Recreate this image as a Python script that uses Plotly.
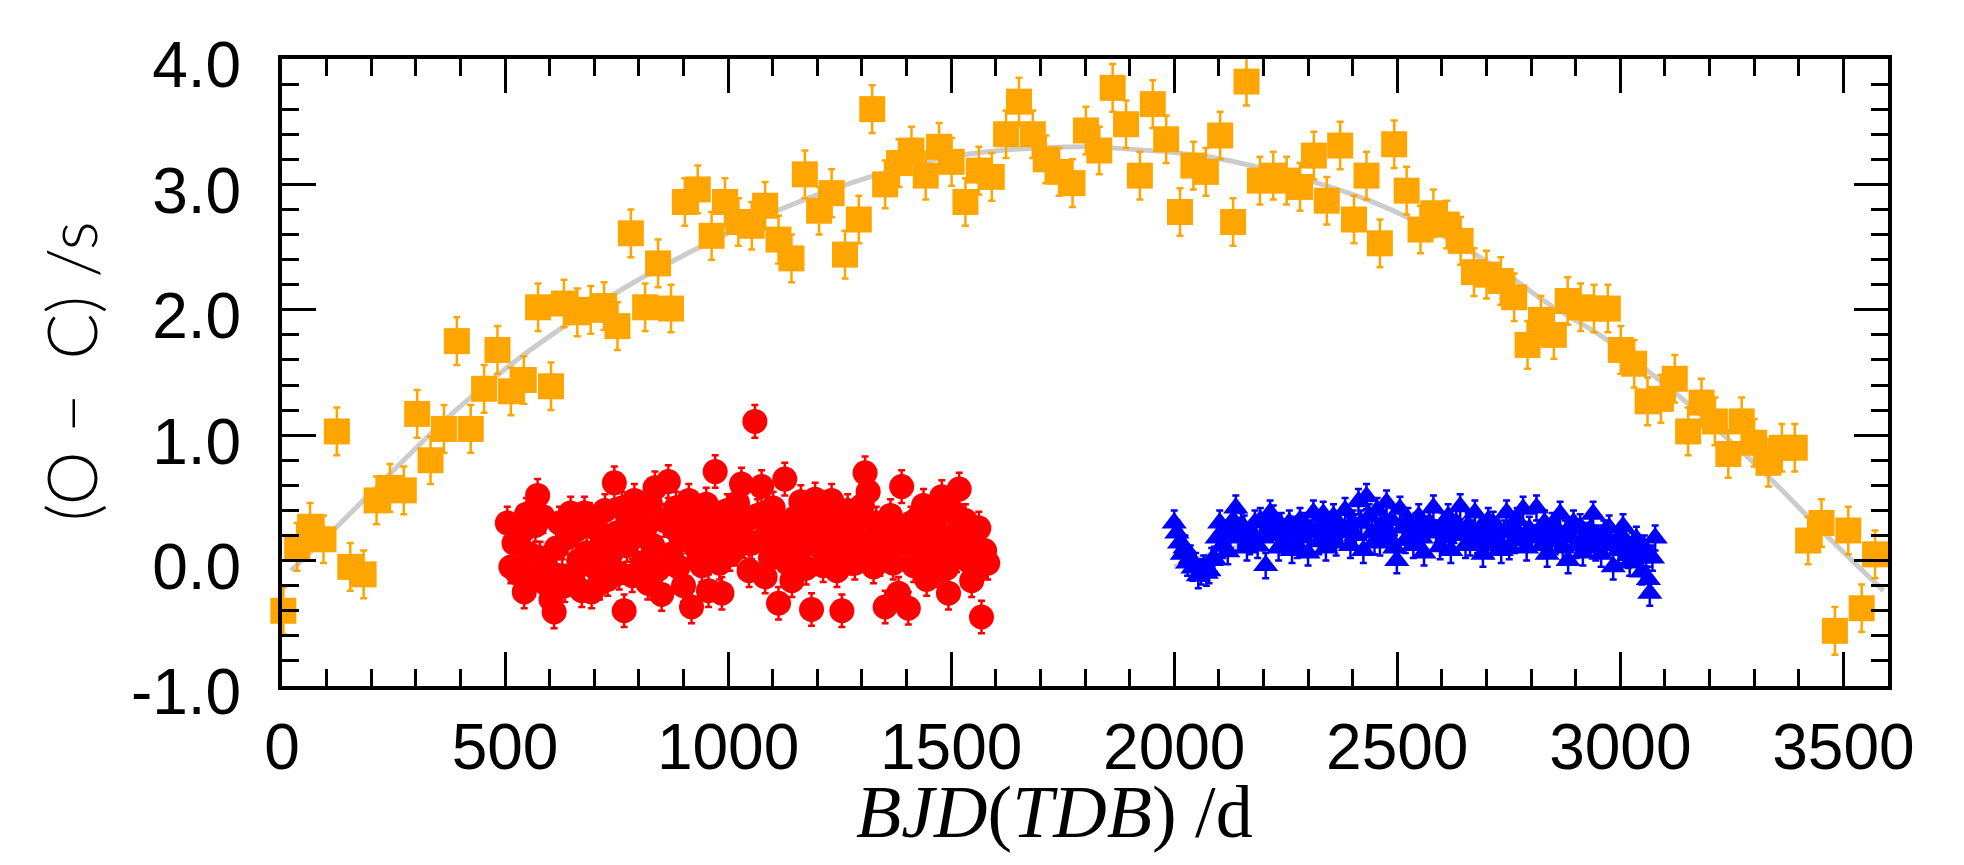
import plotly.graph_objects as go

# ---- O-C timing residuals -------------------------------------------------
# Long-baseline series (orange squares)
orange_x = [3, 34, 63, 93, 123, 153, 183, 212, 242, 273, 303, 333, 363, 392, 423,
            453, 483, 513, 542, 574, 603, 632, 662, 692, 722, 752, 782, 814, 843,
            872, 903, 932, 963, 993, 1023, 1053, 1083, 1113, 1142, 1172, 1204,
            1232, 1262, 1293, 1323, 1352, 1383, 1411, 1443, 1473, 1501, 1532,
            1562, 1591, 1623, 1652, 1683, 1712, 1742, 1772, 1802, 1832, 1862,
            1892, 1923, 1952, 1982, 2013, 2043, 2071, 2103, 2132, 2162, 2192,
            2222, 2252, 2282, 2313, 2342, 2372, 2403, 2431, 2461, 2493, 2521,
            2552, 2581, 2611, 2642, 2672, 2700, 2732, 2762, 2792, 2822, 2851,
            2882, 2911, 2941, 2972, 3001, 3031, 3061, 3091, 3122, 3152, 3182,
            3212, 3242, 3272, 3300, 3332, 3362, 3391, 3421, 3451, 3481, 3511,
            3541, 3571]
orange_y = [-0.40, 0.11, 0.27, 0.17, 1.03, -0.05, -0.11, 0.48, 0.58, 0.56, 1.17,
            0.80, 1.05, 1.75, 1.05, 1.37, 1.68, 1.35, 1.44, 2.02, 1.39, 2.05,
            1.98, 2.00, 2.03, 1.87, 2.61, 2.02, 2.37, 2.01, 2.86, 2.96, 2.59,
            2.86, 2.70, 2.67, 2.83, 2.56, 2.41, 3.08, 2.79, 2.93, 2.44, 2.72,
            3.60, 3.00, 3.17, 3.27, 3.07, 3.30, 3.18, 2.86, 3.11, 3.06, 3.40,
            3.66, 3.40, 3.20, 3.10, 3.01, 3.43, 3.27, 3.77, 3.48, 3.07, 3.64,
            3.36, 2.78, 3.15, 3.10, 3.39, 2.70, 3.82, 3.03, 3.07, 3.03, 2.98,
            3.23, 2.87, 3.31, 2.72, 3.07, 2.53, 3.32, 2.95, 2.64, 2.77, 2.68,
            2.55, 2.30, 2.28, 2.23, 2.10, 1.72, 1.92, 1.80, 2.07, 2.02, 2.01,
            2.01, 1.68, 1.57, 1.27, 1.29, 1.45, 1.03, 1.26, 1.11, 0.85, 1.11,
            0.94, 0.78, 0.90, 0.90, 0.16, 0.30, -0.56, 0.24, -0.38, 0.05]
orange_err = 0.19

# First short campaign (red circles)
red_x = [505, 513, 520, 528, 535, 543, 548, 555, 562, 568,
         573, 578, 585, 590, 597, 603, 610, 615, 622, 628,
         634, 640, 647, 652, 658, 665, 672, 678, 683, 689,
         694, 700, 706, 712, 718, 724, 730, 737, 745, 750,
         756, 762, 767, 773, 779, 785, 790, 796, 802, 808,
         814, 820, 826, 831, 836, 843, 851, 857, 866, 872,
         878, 883, 888, 894, 900, 906, 912, 918, 924, 930,
         935, 941, 947, 951, 956, 962, 971, 977, 981, 986,
         992, 998, 1004, 1010, 1015, 1021, 1030, 1035, 1041, 1047,
         1053, 1060, 1066, 1075, 1083, 1089, 1095, 1101, 1107, 1113,
         1120, 1127, 1133, 1138, 1143, 1150, 1157, 1163, 1169, 1175,
         1181, 1187, 1195, 1201, 1207, 1213, 1220, 1226, 1232, 1238,
         1244, 1250, 1255, 1262, 1268, 1274, 1279, 1284, 1290, 1296,
         1301, 1307, 1314, 1320, 1326, 1332, 1340, 1346, 1352, 1358,
         1364, 1370, 1376, 1382, 1389, 1395, 1404, 1410, 1416, 1420,
         1426, 1432, 1438, 1445, 1450, 1456, 1462, 1468, 1473, 1479,
         1485, 1490, 1494, 1500, 1506, 1512, 1518, 1524, 1532, 1538,
         1546, 1552, 1558, 1562, 1568, 1575, 1582]
red_y = [0.30, -0.05, 0.14, -0.10, 0.22, -0.25, 0.37, 0.05, -0.15, 0.28,
         0.52, 0.02, 0.35, -0.18, -0.08, -0.31, -0.41, 0.10, 0.30, -0.12,
         -0.20, 0.18, 0.38, -0.14, 0.24, 0.00, -0.24, 0.38, 0.06, 0.33,
         -0.25, -0.05, 0.25, -0.18, 0.15, 0.40, -0.15, 0.05, 0.62, 0.22,
         -0.10, 0.42, -0.40, 0.12, 0.30, -0.12, 0.48, 0.20, 0.36, -0.02,
         0.26, -0.18, 0.45, 0.12, 0.58, -0.07, -0.27, 0.32, 0.63, 0.05,
         0.26, 0.42, -0.05, 0.18, -0.20, 0.30, 0.48, -0.37, 0.12, 0.36,
         0.02, -0.04, 0.24, 0.45, -0.24, 0.10, 0.71, 0.34, -0.02, -0.26,
         0.20, 0.40, 0.05, 0.28, 0.09, 0.46, 0.61, 0.15, 0.32, -0.08,
         0.14, 1.11, 0.36, 0.59, -0.13, 0.24, 0.02, 0.42, 0.12, -0.34,
         0.26, 0.65, -0.02, 0.20, -0.16, 0.34, 0.06, 0.47, 0.22, -0.06,
         0.32, -0.39, 0.49, 0.12, 0.28, -0.04, 0.36, 0.05, 0.48, 0.18,
         -0.08, 0.30, -0.40, 0.12, 0.40, 0.02, 0.24, -0.02, 0.34, 0.10,
         0.44, 0.70, 0.55, 0.16, -0.05, 0.30, 0.01, 0.22, -0.37, 0.10,
         0.36, -0.02, 0.24, -0.26, 0.59, 0.14, -0.38, 0.30, -0.04, 0.18,
         0.34, 0.06, 0.44, -0.15, 0.22, -0.02, 0.34, 0.10, -0.08, 0.51,
         0.20, -0.06, -0.26, 0.14, 0.38, 0.04, 0.57, 0.22, 0.32, 0.00,
         -0.16, 0.12, -0.08, 0.26, -0.45, 0.08, -0.02]
red_err = 0.13

# Second short campaign (blue triangles)
blue_x = [2000, 2006, 2012, 2018, 2024, 2030, 2036, 2042, 2048, 2054, 2060, 2066,
          2072, 2078, 2084, 2090, 2096, 2102, 2108, 2114, 2120, 2126, 2132, 2138,
          2144, 2150, 2157, 2163, 2169, 2175, 2181, 2187, 2193, 2199, 2205, 2211,
          2215, 2222, 2228, 2234, 2240, 2246, 2252, 2258, 2264, 2270, 2276, 2282,
          2288, 2294, 2300, 2306, 2312, 2318, 2324, 2330, 2334, 2340, 2346, 2352,
          2357, 2363, 2369, 2375, 2383, 2389, 2395, 2401, 2407, 2413, 2419, 2424,
          2431, 2437, 2443, 2449, 2455, 2461, 2467, 2473, 2476, 2482, 2488, 2494,
          2499, 2506, 2512, 2518, 2524, 2530, 2536, 2542, 2548, 2554, 2560, 2566,
          2572, 2581, 2587, 2596, 2602, 2608, 2614, 2620, 2626, 2632, 2641, 2647,
          2653, 2659, 2663, 2669, 2674, 2680, 2686, 2692, 2698, 2704, 2710, 2715,
          2721, 2727, 2733, 2739, 2745, 2751, 2757, 2763, 2769, 2775, 2782, 2790,
          2796, 2802, 2812, 2818, 2824, 2830, 2836, 2842, 2848, 2854, 2860, 2865,
          2871, 2877, 2883, 2889, 2895, 2901, 2910, 2916, 2922, 2928, 2933, 2939,
          2945, 2951, 2957, 2963, 2969, 2975, 2984, 2990, 2996, 3002, 3006, 3012,
          3018, 3021, 3027, 3032, 3036, 3042, 3048, 3054, 3058, 3063, 3066, 3072,
          3078]
blue_y = [0.30, 0.22, 0.14, 0.05, 0.10, -0.02, 0.02, -0.06, -0.04, -0.12, -0.09,
          -0.06, -0.10, -0.08, 0.00, 0.01, 0.18, 0.30, 0.12, 0.22, 0.07, 0.20,
          0.32, 0.42, 0.18, 0.28, 0.26, 0.10, 0.15, 0.22, 0.30, 0.12, 0.32, 0.18,
          -0.04, 0.25, 0.38, 0.34, 0.20, 0.10, 0.28, 0.15, 0.22, 0.30, 0.08, 0.25,
          0.12, 0.32, 0.18, 0.28, 0.06, 0.22, 0.38, 0.25, 0.15, 0.30, 0.37, 0.10,
          0.27, 0.20, 0.35, 0.14, 0.28, 0.22, 0.40, 0.25, 0.12, 0.30, 0.20, 0.47,
          0.30, 0.08, 0.51, 0.35, 0.22, 0.15, 0.40, 0.14, 0.30, 0.25, 0.46, 0.18,
          0.32, 0.10, 0.00, 0.41, 0.26, 0.16, 0.32, 0.20, 0.12, 0.28, 0.35, 0.18,
          0.06, 0.25, 0.30, 0.42, 0.22, 0.11, 0.28, 0.18, 0.35, 0.08, 0.24, 0.30,
          0.43, 0.20, 0.12, 0.28, 0.14, 0.22, 0.38, 0.16, 0.26, 0.05, 0.20, 0.32,
          0.12, 0.29, 0.18, 0.25, 0.08, 0.22, 0.38, 0.11, 0.28, 0.16, 0.32, 0.20,
          0.41, 0.10, 0.25, 0.18, 0.42, 0.22, 0.12, 0.30, 0.05, 0.20, 0.28, 0.15,
          0.24, 0.37, 0.10, 0.22, 0.00, 0.18, 0.30, 0.12, 0.27, 0.06, 0.20, 0.15,
          0.25, 0.37, 0.10, 0.18, 0.05, 0.22, 0.12, 0.26, -0.05, 0.15, 0.08, 0.20,
          0.27, 0.10, 0.04, -0.02, 0.12, 0.06, 0.17, 0.02, -0.09, 0.10, 0.05,
          -0.15, -0.26, 0.02, 0.18]
blue_err = 0.10

# Fitted model curves (light grey)
fit_x = [20, 120, 250, 390, 530, 650, 765, 937, 1116, 1266, 1452, 1609, 1796,
         1864, 2058, 2185, 2312, 2431, 2544, 2730, 2842, 2962, 3059, 3149, 3238,
         3343, 3462, 3590]
fit_y = [-0.08, 0.26, 0.72, 1.20, 1.61, 1.91, 2.17, 2.50, 2.80, 3.00, 3.19, 3.27,
         3.30, 3.29, 3.23, 3.14, 3.02, 2.88, 2.70, 2.32, 2.04, 1.78, 1.52, 1.26,
         0.98, 0.63, 0.20, -0.24]
red_fit_x = [500, 700, 900, 1150, 1400, 1585]
red_fit_y = [0.10, 0.18, 0.24, 0.28, 0.25, 0.20]
blue_fit_x = [2000, 2100, 2200, 2320, 2430, 2540, 2650, 2760, 2880, 2980, 3080]
blue_fit_y = [-0.05, 0.07, 0.16, 0.21, 0.24, 0.235, 0.21, 0.18, 0.12, 0.07, 0.01]

x_ticks = [0, 500, 1000, 1500, 2000, 2500, 3000, 3500]
x_labels = ["0", "500", "1000", "1500", "2000", "2500", "3000", "3500"]
y_ticks = [-1, 0, 1, 2, 3, 4]
y_labels = ["-1.0", "0.0", "1.0", "2.0", "3.0", "4.0"]

ORANGE = "#FFA500"
RED = "#FF0000"
BLUE = "#0000FF"
GREY = "#CCCCCC"

fig = go.Figure()

for fx, fy in ((fit_x, fit_y), (red_fit_x, red_fit_y), (blue_fit_x, blue_fit_y)):
    fig.add_trace(go.Scatter(x=fx, y=fy, mode="lines", line_shape="spline",
                             line=dict(color=GREY, width=5), hoverinfo="skip"))


def residuals(x, y, err, color, symbol, size):
    return go.Scatter(
        x=x, y=y, mode="markers", cliponaxis=False,
        marker=dict(symbol=symbol, size=size, color=color, line=dict(width=0)),
        error_y=dict(type="constant", value=err, color=color,
                     thickness=2.5, width=3.5),
    )


fig.add_trace(residuals(orange_x, orange_y, orange_err, ORANGE, "square", 26))
fig.add_trace(residuals(red_x, red_y, red_err, RED, "circle", 25))
fig.add_trace(residuals(blue_x, blue_y, blue_err, BLUE, "triangle-up", 22))

axis_common = dict(
    showline=True, linecolor="black", linewidth=4, mirror="ticks",
    ticks="inside", tickcolor="black", tickwidth=3, ticklen=34,
    showgrid=False, zeroline=False,
    tickfont=dict(family="Liberation Sans, Arial, sans-serif", size=64, color="black"),
)

fig.update_xaxes(
    range=[0, 3600], tickmode="array", tickvals=x_ticks, ticktext=x_labels,
    minor=dict(tickmode="linear", tick0=0, dtick=100, ticks="inside",
               ticklen=17, tickwidth=3, tickcolor="black", showgrid=False),
    ticklabelstandoff=2,
    **axis_common,
)
fig.update_yaxes(
    range=[-1, 4], tickmode="array", tickvals=y_ticks, ticktext=y_labels,
    minor=dict(tickmode="linear", tick0=0, dtick=0.2, ticks="inside",
               ticklen=17, tickwidth=3, tickcolor="black", showgrid=False),
    ticklabelstandoff=24, ticklabelshift=6,
    **axis_common,
)

# Axis titles
fig.add_annotation(
    text="<i>BJD</i>(<i>TDB</i>) /d", xref="paper", yref="paper",
    x=0.481, y=-0.201, xanchor="center", yanchor="middle", showarrow=False,
    font=dict(family="Liberation Serif, Times New Roman, serif", size=74, color="black"),
)
fig.add_annotation(
    text="(O \u2212\u2002C) /s", xref="paper", yref="paper", textangle=-90,
    x=-0.132, y=0.502, xanchor="center", yanchor="middle", showarrow=False,
    font=dict(family="Lato, Open Sans, sans-serif", size=68, color="black", weight=300),
)

fig.update_layout(
    width=1964, height=865,
    margin=dict(l=282, r=76, t=59, b=179, autoexpand=False),
    plot_bgcolor="white", paper_bgcolor="white",
    showlegend=False,
)

fig.write_html("out.html")
